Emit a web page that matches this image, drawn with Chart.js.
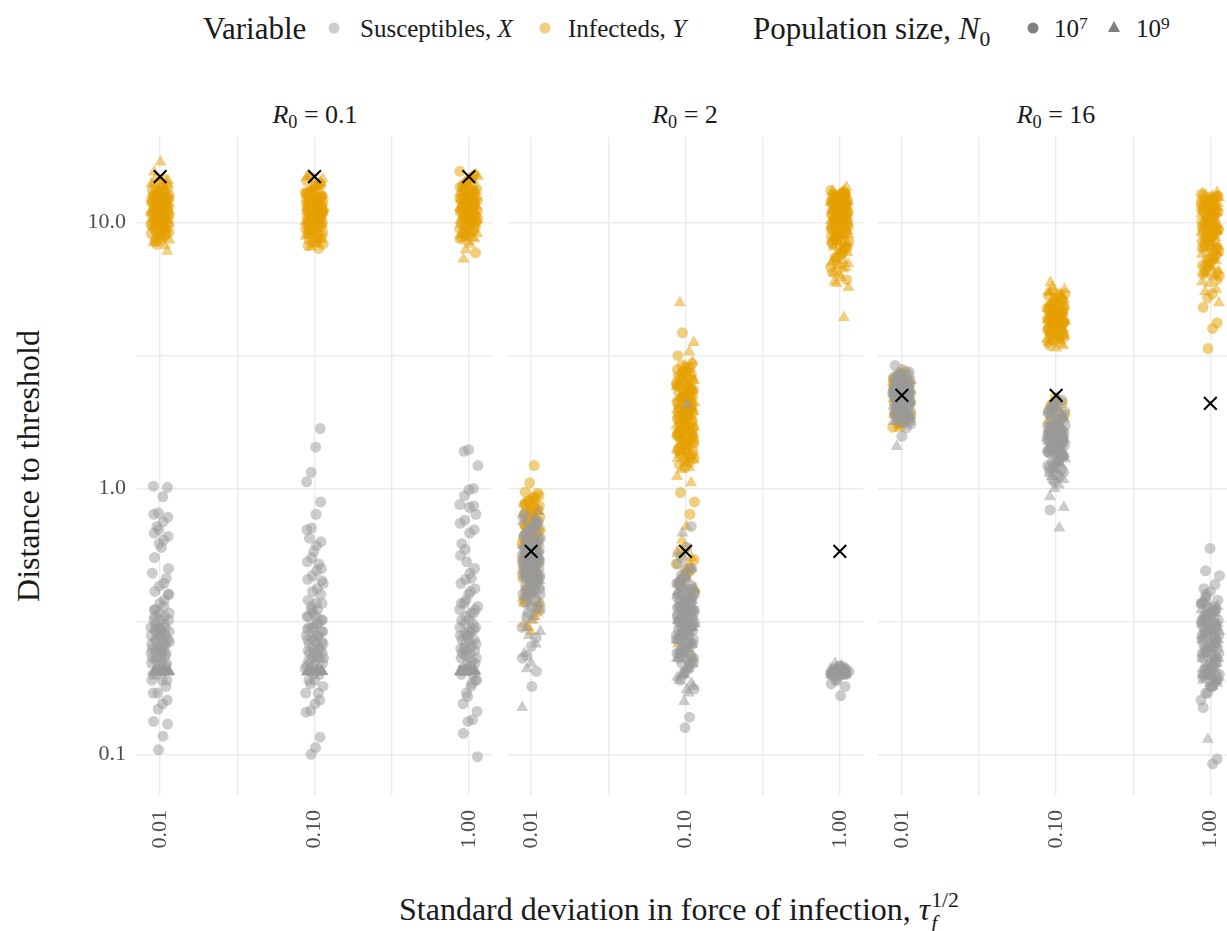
<!DOCTYPE html>
<html>
<head>
<meta charset="utf-8">
<script src="https://cdn.jsdelivr.net/npm/chart.js@4.4.1/dist/chart.umd.min.js"></script>
<style>
  body { margin: 0; width: 1227px; height: 931px; overflow: hidden; position: relative; background: #fff;
         font-family: 'Liberation Serif', serif; color: #1a1a1a; }
  .txt { position: absolute; white-space: nowrap; line-height: 1; }
  .mk { position: absolute; }
  canvas { position: absolute; top: 100px; }
  .lo { font-size: 0.7em; position: relative; top: 0.3em; }
  .hi { font-size: 0.7em; position: relative; top: -0.45em; }
  .stack { display: inline-flex; flex-direction: column; font-size: 0.68em; line-height: 1.05; vertical-align: 0.62em; margin-left: 0.04em; }
</style>
</head>
<body>

<!-- legend -->
<div class="txt" style="left:203px; top:13px; font-size:31px;">Variable</div>
<svg class="mk" style="left:328px; top:22px;" width="12" height="12"><circle cx="6" cy="6" r="5.5" fill="rgba(153,153,153,0.5)"/></svg>
<div class="txt" style="left:360px; top:16px; font-size:25px;">Susceptibles, <i>X</i></div>
<svg class="mk" style="left:539px; top:22px;" width="12" height="12"><circle cx="6" cy="6" r="5.5" fill="rgba(230,159,0,0.5)"/></svg>
<div class="txt" style="left:568px; top:16px; font-size:25px;">Infecteds, <i>Y</i></div>
<div class="txt" style="left:753px; top:13px; font-size:31px;">Population size, <i>N</i><span class="lo">0</span></div>
<svg class="mk" style="left:1027px; top:22px;" width="12" height="12"><circle cx="6" cy="6" r="5.5" fill="rgba(0,0,0,0.5)"/></svg>
<div class="txt" style="left:1054px; top:16px; font-size:25px;">10<span class="hi">7</span></div>
<svg class="mk" style="left:1107px; top:20px;" width="14" height="14"><polygon points="7,1 13,12 1,12" fill="rgba(0,0,0,0.5)"/></svg>
<div class="txt" style="left:1136px; top:16px; font-size:25px;">10<span class="hi">9</span></div>

<!-- facet strips -->
<div class="txt" id="strip0" style="left:315px; top:102px; font-size:26px; transform:translateX(-50%);"></div>
<div class="txt" id="strip1" style="left:685px; top:102px; font-size:26px; transform:translateX(-50%);"></div>
<div class="txt" id="strip2" style="left:1056px; top:102px; font-size:26px; transform:translateX(-50%);"></div>

<!-- axis titles -->
<div class="txt" style="left:28px; top:466px; font-size:32px; transform:translate(-50%,-50%) rotate(-90deg);">Distance to threshold</div>
<div class="txt" style="left:399px; top:889px; font-size:32px;">Standard deviation in force of infection, <i>τ</i><span class="stack"><span>1/2</span><span><i>f</i></span></span></div>

<canvas id="facet0" width="492" height="760" style="left:0px;"></canvas>
<canvas id="facet1" width="355" height="760" style="left:508px;"></canvas>
<canvas id="facet2" width="349" height="760" style="left:878px;"></canvas>

<script>
// categories and labels
const r0Labels = ['0.1', '2', '16'];
const tauLog = [-2, -1, 0];
const tauTicks = ['0.01', '0.10', '1.00'];
const yTickValues = [0.1, 1, 10];
const yTickLabels = ['0.1', '1.0', '10.0'];
const yMinorGrid = [0.316, 3.16];
const xMinorGrid = [-1.5, -0.5];

// black crosses, one per facet and tau
const thresholdMarks = [[14.9, 14.9, 14.9], [0.58, 0.58, 0.58], [2.24, 2.24, 2.09]];

// R0 = 0.1 -- each list holds tau = 0.01, 0.10, 1.00
const suscSmallR01 = [
  [1.02, 1.01, 0.93, 0.81, 0.8, 0.78, 0.75, 0.7, 0.68, 0.66, 0.64, 0.62, 0.55, 0.5, 0.44, 0.43, 0.41, 0.4, 0.38, 0.37, 0.35, 0.34, 0.33, 0.32, 0.31, 0.3, 0.3, 0.29, 0.29, 0.28, 0.28, 0.275, 0.27, 0.26, 0.26, 0.255, 0.25, 0.25, 0.24, 0.24, 0.23, 0.23, 0.22, 0.22, 0.21, 0.2, 0.19, 0.19, 0.17, 0.17, 0.16, 0.155, 0.148, 0.133, 0.13, 0.117, 0.104, 0.32, 0.27, 0.245, 0.3, 0.35,
   0.4, 0.36, 0.34, 0.33, 0.32, 0.31, 0.3, 0.295, 0.29, 0.285, 0.28, 0.27, 0.265, 0.26, 0.25, 0.245, 0.24, 0.235, 0.23, 0.225, 0.22, 0.215, 0.21, 0.2, 0.19, 0.18, 0.6, 0.72, 0.48, 0.46],
  [1.68, 1.43, 1.15, 1.06, 0.89, 0.8, 0.71, 0.7, 0.63, 0.61, 0.55, 0.53, 0.5, 0.49, 0.47, 0.455, 0.45, 0.42, 0.41, 0.38, 0.37, 0.35, 0.34, 0.33, 0.32, 0.31, 0.3, 0.3, 0.29, 0.28, 0.27, 0.26, 0.26, 0.25, 0.24, 0.24, 0.23, 0.23, 0.22, 0.22, 0.21, 0.2, 0.19, 0.184, 0.17, 0.16, 0.155, 0.146, 0.144, 0.116, 0.106, 0.1, 0.28, 0.25, 0.33, 0.36, 0.215,
   0.4, 0.37, 0.35, 0.33, 0.32, 0.31, 0.3, 0.295, 0.29, 0.28, 0.275, 0.27, 0.265, 0.26, 0.25, 0.245, 0.24, 0.235, 0.23, 0.225, 0.22, 0.21, 0.2, 0.19, 0.18, 0.17, 0.58, 0.65, 0.44, 0.52],
  [1.4, 1.38, 1.22, 1.0, 0.99, 0.94, 0.87, 0.86, 0.85, 0.76, 0.74, 0.7, 0.68, 0.59, 0.56, 0.5, 0.48, 0.455, 0.44, 0.42, 0.41, 0.38, 0.37, 0.35, 0.34, 0.33, 0.32, 0.3, 0.29, 0.28, 0.27, 0.26, 0.255, 0.245, 0.24, 0.23, 0.225, 0.22, 0.21, 0.19, 0.185, 0.165, 0.155, 0.145, 0.135, 0.133, 0.12, 0.098, 0.31, 0.28, 0.25, 0.36, 0.2,
   0.4, 0.37, 0.35, 0.34, 0.32, 0.31, 0.3, 0.295, 0.29, 0.285, 0.28, 0.27, 0.265, 0.26, 0.25, 0.245, 0.24, 0.235, 0.23, 0.22, 0.215, 0.21, 0.2, 0.19, 0.18, 0.17, 0.62, 0.8, 0.46, 0.53]
];
const suscLargeR01 = [
  [0.205, 0.204, 0.206, 0.205, 0.204, 0.206, 0.205, 0.205, 0.204, 0.206, 0.205, 0.204, 0.206, 0.205, 0.205, 0.204, 0.205, 0.206, 0.204, 0.205, 0.205, 0.206, 0.204, 0.205],
  [0.205, 0.206, 0.204, 0.205, 0.205, 0.206, 0.204, 0.205, 0.206, 0.204, 0.205, 0.205, 0.206, 0.204, 0.205, 0.205, 0.204, 0.205, 0.206, 0.205, 0.204, 0.205, 0.206, 0.205],
  [0.204, 0.205, 0.206, 0.205, 0.204, 0.205, 0.206, 0.205, 0.204, 0.205, 0.206, 0.205, 0.204, 0.205, 0.206, 0.205, 0.205, 0.204, 0.206, 0.205, 0.204, 0.205, 0.206, 0.205]
];
const infSmallR01 = [
  [14.6, 14.2, 13.8, 13.5, 13.1, 12.8, 12.6, 12.3, 12.1, 11.9, 11.7, 11.5, 11.3, 11.1, 10.9, 10.7, 10.5, 10.3, 10.1, 9.9, 9.7, 9.5, 9.3, 9.1, 8.9, 8.6, 8.3, 12.4, 11.6, 11.0, 10.4, 9.8, 11.8, 12.9, 10.2, 13.3, 9.4, 11.2, 10.8, 12.0,
   13.9, 13.6, 13.0, 12.7, 12.5, 12.2, 12.0, 11.8, 11.6, 11.4, 11.3, 11.1, 11.0, 10.9, 10.7, 10.6, 10.5, 10.3, 10.2, 10.0, 9.9, 9.7, 9.6, 9.4, 9.2, 9.0, 8.8, 8.5, 12.6, 12.1, 11.7, 11.2, 10.8, 10.4, 10.1, 9.8, 11.9, 11.5, 10.6, 12.3],
  [14.8, 14.3, 13.9, 13.5, 13.2, 12.9, 12.6, 12.3, 12.0, 11.8, 11.6, 11.4, 11.2, 11.0, 10.8, 10.6, 10.4, 10.2, 10.0, 9.8, 9.6, 9.4, 9.2, 9.0, 8.8, 8.6, 8.3, 8.0, 12.5, 11.7, 11.1, 10.5, 9.9, 12.1, 13.0, 10.3, 11.5, 10.9, 9.5,
   14.0, 13.7, 13.1, 12.8, 12.5, 12.2, 12.0, 11.8, 11.6, 11.4, 11.2, 11.1, 10.9, 10.8, 10.6, 10.5, 10.3, 10.2, 10.0, 9.8, 9.7, 9.5, 9.3, 9.1, 8.9, 8.7, 8.5, 8.2, 12.6, 12.2, 11.7, 11.3, 10.9, 10.4, 10.1, 9.8, 11.9, 11.5, 10.7, 12.4],
  [15.6, 15.0, 14.5, 14.0, 13.6, 13.2, 12.9, 12.6, 12.3, 12.0, 11.7, 11.4, 11.1, 10.8, 10.5, 10.2, 9.9, 9.6, 9.3, 9.0, 8.8, 7.7, 12.8, 11.9, 11.2, 10.6, 13.4, 12.2, 11.5, 10.0,
   14.8, 14.3, 13.8, 13.4, 13.0, 12.7, 12.4, 12.1, 11.8, 11.6, 11.3, 11.1, 10.9, 10.7, 10.5, 10.3, 10.1, 9.9, 9.7, 9.5, 9.3, 9.1, 8.9, 8.7, 12.5, 12.0, 11.4, 11.0, 10.6, 10.2, 13.2, 12.2, 11.7, 10.8]
];
const infLargeR01 = [
  [16.9, 14.8, 14.0, 13.4, 12.9, 12.5, 12.2, 11.9, 11.6, 11.4, 11.2, 11.0, 10.8, 10.6, 10.4, 10.2, 10.0, 9.8, 9.6, 9.3, 9.0, 8.7, 8.4, 7.8, 12.7, 11.5, 10.9, 10.3, 11.8, 13.1,
   15.5, 14.4, 13.7, 13.2, 12.8, 12.4, 12.0, 11.7, 11.3, 11.1, 10.7, 10.5, 10.1, 9.9, 9.5, 9.2, 8.9, 8.6, 8.2, 12.6, 11.9, 11.0, 10.4, 9.7, 12.2],
  [15.1, 14.6, 14.0, 13.5, 13.0, 12.6, 12.2, 11.9, 11.6, 11.3, 11.0, 10.7, 10.4, 10.1, 9.8, 9.5, 9.2, 8.9, 8.6, 8.3, 8.1, 12.4, 11.1, 10.5, 11.8,
   14.8, 14.2, 13.7, 13.2, 12.8, 12.4, 12.0, 11.7, 11.4, 11.1, 10.8, 10.5, 10.2, 9.9, 9.6, 9.3, 9.0, 8.7, 8.4, 12.6, 11.8, 11.2, 10.6, 9.8, 12.2],
  [15.2, 14.6, 14.1, 13.6, 13.1, 12.7, 12.3, 11.9, 11.5, 11.2, 10.9, 10.6, 10.3, 10.0, 9.7, 9.4, 9.1, 8.8, 8.5, 7.3, 12.5, 11.0, 13.4, 10.4,
   14.9, 14.4, 13.9, 13.4, 12.9, 12.5, 12.1, 11.7, 11.4, 11.1, 10.8, 10.5, 10.2, 9.9, 9.6, 9.3, 9.0, 8.7, 8.3, 7.9, 12.3, 11.6, 10.9, 10.1, 13.1]
];

// R0 = 2
const suscSmallR2 = [
  [0.8, 0.75, 0.72, 0.7, 0.67, 0.65, 0.63, 0.61, 0.6, 0.58, 0.57, 0.56, 0.55, 0.54, 0.52, 0.5, 0.49, 0.47, 0.45, 0.44, 0.42, 0.4, 0.38, 0.36, 0.33, 0.3, 0.275, 0.255, 0.235, 0.23, 0.205, 0.18, 0.62, 0.53, 0.48, 0.43, 0.59, 0.51, 0.46, 0.41, 0.34,
   0.78, 0.74, 0.71, 0.69, 0.66, 0.64, 0.62, 0.6, 0.59, 0.58, 0.57, 0.56, 0.55, 0.54, 0.53, 0.52, 0.51, 0.5, 0.49, 0.48, 0.47, 0.46, 0.45, 0.44, 0.43, 0.42, 0.41, 0.39, 0.37, 0.35,
   0.76, 0.72, 0.68, 0.65, 0.62, 0.6, 0.58, 0.56, 0.54, 0.52, 0.5, 0.48, 0.46, 0.44, 0.42, 0.4, 0.55, 0.5],
  [0.72, 0.6, 0.55, 0.52, 0.5, 0.48, 0.46, 0.44, 0.43, 0.42, 0.41, 0.4, 0.39, 0.38, 0.37, 0.36, 0.35, 0.34, 0.33, 0.32, 0.31, 0.3, 0.29, 0.28, 0.27, 0.26, 0.25, 0.24, 0.23, 0.22, 0.205, 0.19, 0.176, 0.138, 0.126, 0.45, 0.4, 0.35, 0.33, 0.3, 0.28, 0.36, 0.32,
   0.47, 0.44, 0.42, 0.41, 0.4, 0.39, 0.38, 0.37, 0.36, 0.355, 0.35, 0.345, 0.34, 0.335, 0.33, 0.325, 0.32, 0.315, 0.31, 0.305, 0.3, 0.295, 0.29, 0.285, 0.28, 0.27, 0.26, 0.25, 0.24, 0.23, 0.22, 0.21, 0.2, 0.38, 0.34, 0.31,
   0.46, 0.43, 0.41, 0.39, 0.37, 0.36, 0.35, 0.34, 0.33, 0.32, 0.31, 0.3, 0.29, 0.28, 0.27, 0.265, 0.26, 0.25, 0.24, 0.235, 0.23, 0.22, 0.33, 0.3, 0.28],
  [0.215, 0.21, 0.205, 0.2, 0.198, 0.195, 0.2, 0.205, 0.21, 0.19, 0.184, 0.18, 0.166, 0.2, 0.202, 0.21, 0.2, 0.205, 0.198, 0.202, 0.215, 0.19, 0.205, 0.2, 0.21]
];
const suscLargeR2 = [
  [0.82, 0.76, 0.7, 0.66, 0.62, 0.6, 0.57, 0.55, 0.53, 0.51, 0.49, 0.47, 0.45, 0.43, 0.41, 0.39, 0.37, 0.35, 0.32, 0.3, 0.29, 0.26, 0.22, 0.21, 0.15, 0.58, 0.52, 0.46,
   0.75, 0.7, 0.67, 0.64, 0.61, 0.59, 0.57, 0.55, 0.54, 0.52, 0.5, 0.48, 0.47, 0.45, 0.43, 0.41, 0.39, 0.36, 0.33, 0.28, 0.24,
   0.72, 0.66, 0.62, 0.58, 0.55, 0.52, 0.49, 0.46, 0.43, 0.4, 0.37],
  [2.07, 0.68, 0.57, 0.5, 0.46, 0.43, 0.4, 0.38, 0.36, 0.34, 0.32, 0.3, 0.28, 0.26, 0.245, 0.23, 0.215, 0.2, 0.19, 0.18, 0.17, 0.158, 0.37, 0.33, 0.29,
   0.5, 0.45, 0.42, 0.4, 0.38, 0.36, 0.35, 0.34, 0.33, 0.32, 0.31, 0.3, 0.29, 0.28, 0.27, 0.26, 0.25, 0.24, 0.23, 0.22, 0.21, 0.2, 0.195, 0.185, 0.175,
   0.44, 0.41, 0.38, 0.36, 0.34, 0.32, 0.3, 0.29, 0.28, 0.27, 0.26, 0.25, 0.24, 0.23, 0.22, 0.21, 0.2],
  [0.22, 0.21, 0.205, 0.2, 0.2, 0.205, 0.2, 0.21, 0.205, 0.2, 0.2, 0.205, 0.21, 0.2, 0.205, 0.2, 0.21, 0.2, 0.205, 0.215, 0.2, 0.205, 0.21, 0.2]
];
const infSmallR2 = [
  [1.22, 1.05, 0.97, 0.94, 0.92, 0.9, 0.88, 0.86, 0.84, 0.82, 0.8, 0.78, 0.76, 0.74, 0.72, 0.7, 0.68, 0.66, 0.64, 0.62, 0.6, 0.58, 0.56, 0.54, 0.52, 0.5, 0.48, 0.46, 0.44, 0.42, 0.4, 0.38, 0.36, 0.85, 0.75, 0.65, 0.55, 0.6, 0.7, 0.5,
   0.96, 0.93, 0.9, 0.87, 0.83, 0.8, 0.77, 0.73, 0.69, 0.65, 0.61, 0.57, 0.53, 0.49, 0.45, 0.41, 0.37, 0.9, 0.82, 0.72],
  [3.85, 3.16, 2.95, 2.85, 2.75, 2.65, 2.55, 2.45, 2.38, 2.3, 2.22, 2.15, 2.08, 2.0, 1.94, 1.88, 1.82, 1.76, 1.7, 1.65, 1.6, 1.55, 1.5, 1.45, 1.4, 1.35, 1.3, 1.25, 1.2, 0.965, 0.89, 0.8, 0.6, 0.56, 0.52, 0.49, 0.46, 0.43, 2.5, 2.1, 1.9, 1.72, 1.58, 2.6, 1.42,
   2.9, 2.8, 2.7, 2.6, 2.5, 2.42, 2.34, 2.26, 2.18, 2.12, 2.05, 1.98, 1.92, 1.86, 1.8, 1.74, 1.68, 1.63, 1.57, 1.52, 1.47, 1.43, 1.38, 1.33, 1.28, 1.23, 2.35, 2.0, 1.78, 1.62, 1.48, 2.2, 1.85, 1.55, 0.54, 0.5, 0.47, 0.44, 0.41,
   2.85, 2.72, 2.58, 2.46, 2.36, 2.27, 2.19, 2.11, 2.03, 1.96, 1.89, 1.83, 1.77, 1.71, 1.66, 1.6, 1.54, 1.49, 1.44, 1.39, 1.34, 1.3, 2.24, 1.93, 1.64],
  [13.2, 12.9, 12.6, 12.3, 12.0, 11.7, 11.4, 11.1, 10.8, 10.5, 10.2, 9.9, 9.6, 9.3, 9.0, 8.7, 8.4, 8.1, 7.6, 7.0, 6.5, 6.1, 12.4, 11.2, 10.0, 11.8, 10.6, 9.4, 12.8, 11.0,
   13.0, 12.7, 12.4, 12.1, 11.8, 11.5, 11.2, 10.9, 10.6, 10.3, 10.0, 9.7, 9.4, 9.1, 8.8, 8.5, 8.2, 7.9, 7.4, 6.8, 12.5, 11.6, 10.4, 9.5, 12.9, 11.3, 10.1, 8.9,
   12.8, 12.5, 12.2, 11.9, 11.6, 11.3, 11.0, 10.7, 10.4, 10.1, 9.8, 9.5, 9.2, 8.9, 8.6, 8.3, 8.0, 7.7, 12.3, 11.1, 9.9, 10.8, 9.0, 11.7, 10.2]
];
const infLargeR2 = [
  [0.9, 0.85, 0.8, 0.75, 0.7, 0.66, 0.62, 0.58, 0.55, 0.52, 0.49, 0.46, 0.43, 0.4, 0.37, 0.34, 0.32, 0.3, 0.31, 0.63, 0.57, 0.5,
   0.88, 0.82, 0.77, 0.72, 0.68, 0.64, 0.6, 0.56, 0.52, 0.48, 0.44, 0.41, 0.38, 0.35, 0.33, 0.29],
  [5.0, 3.54, 3.27, 2.9, 2.7, 2.55, 2.4, 2.3, 2.2, 2.1, 2.0, 1.9, 1.8, 1.72, 1.64, 1.56, 1.48, 1.4, 1.32, 1.25, 1.18, 1.11, 1.05, 0.72, 0.64, 0.58, 0.55, 0.5, 0.47, 0.44, 0.4, 0.36, 0.3, 0.26, 0.235, 2.45, 1.95, 1.6,
   3.0, 2.8, 2.62, 2.48, 2.35, 2.25, 2.15, 2.05, 1.95, 1.85, 1.76, 1.68, 1.6, 1.52, 1.44, 1.36, 1.28, 1.2, 2.3, 1.9, 1.7, 0.52, 0.48, 0.45, 0.42, 0.38,
   2.75, 2.58, 2.42, 2.28, 2.17, 2.07, 1.97, 1.88, 1.79, 1.7, 1.62, 1.54, 1.46, 1.38, 1.3, 2.0, 1.75],
  [13.6, 13.0, 12.5, 12.1, 11.6, 11.2, 10.8, 10.4, 10.0, 9.6, 9.2, 8.8, 8.4, 8.0, 7.6, 7.3, 7.0, 6.7, 6.4, 6.0, 5.7, 4.4, 12.2, 10.6, 9.0,
   13.2, 12.8, 12.3, 11.9, 11.4, 11.0, 10.6, 10.2, 9.8, 9.4, 9.0, 8.6, 8.2, 7.8, 7.4, 7.1, 6.8, 6.2, 5.9, 12.6, 11.2, 10.0, 8.5,
   13.1, 12.7, 12.2, 11.7, 11.3, 10.9, 10.5, 10.1, 9.7, 9.3, 8.9, 8.5, 8.1, 7.7, 7.2, 6.9, 6.5, 12.0, 10.3, 9.1]
];

// R0 = 16
const suscSmallR16 = [
  [2.9, 2.75, 2.65, 2.58, 2.5, 2.45, 2.4, 2.35, 2.3, 2.26, 2.22, 2.18, 2.14, 2.1, 2.06, 2.02, 1.98, 1.94, 1.9, 1.85, 1.8, 1.75, 1.69, 1.57, 2.38, 2.28, 2.2, 2.12, 2.04, 2.32, 2.16,
   2.8, 2.7, 2.62, 2.55, 2.48, 2.43, 2.38, 2.33, 2.29, 2.25, 2.21, 2.17, 2.13, 2.09, 2.05, 2.01, 1.97, 1.93, 1.88, 1.83, 1.78, 2.4, 2.3, 2.2, 2.1,
   2.7, 2.58, 2.46, 2.36, 2.28, 2.2, 2.12, 2.04, 1.96, 1.88, 1.8, 2.3, 2.15],
  [2.15, 2.05, 1.98, 1.92, 1.86, 1.8, 1.75, 1.7, 1.65, 1.6, 1.56, 1.52, 1.48, 1.44, 1.4, 1.36, 1.32, 1.28, 1.24, 1.2, 1.15, 1.1, 1.06, 0.83, 1.62, 1.5, 1.38, 1.7, 1.45, 1.3,
   2.1, 2.0, 1.95, 1.89, 1.83, 1.78, 1.72, 1.67, 1.62, 1.58, 1.54, 1.5, 1.46, 1.42, 1.38, 1.34, 1.3, 1.26, 1.22, 1.18, 1.13, 1.08, 1.6, 1.5, 1.4,
   2.05, 1.94, 1.85, 1.77, 1.7, 1.63, 1.57, 1.51, 1.45, 1.39, 1.33, 1.27, 1.21, 1.16, 1.55, 1.42],
  [0.595, 0.49, 0.47, 0.435, 0.41, 0.39, 0.37, 0.35, 0.34, 0.33, 0.32, 0.31, 0.3, 0.29, 0.28, 0.27, 0.26, 0.25, 0.24, 0.23, 0.22, 0.21, 0.2, 0.19, 0.18, 0.17, 0.15, 0.096, 0.092, 0.36, 0.3, 0.25, 0.21, 0.2,
   0.42, 0.38, 0.36, 0.34, 0.33, 0.32, 0.31, 0.3, 0.29, 0.28, 0.27, 0.26, 0.25, 0.24, 0.23, 0.22, 0.21, 0.2, 0.19, 0.18, 0.17, 0.16, 0.28, 0.24,
   0.4, 0.37, 0.35, 0.33, 0.32, 0.31, 0.3, 0.29, 0.28, 0.27, 0.26, 0.25, 0.24, 0.23, 0.22, 0.21, 0.2, 0.195, 0.19, 0.18, 0.3, 0.26]
];
const suscLargeR16 = [
  [2.7, 2.6, 2.52, 2.44, 2.37, 2.3, 2.24, 2.18, 2.12, 2.06, 2.0, 1.94, 1.88, 1.82, 1.76, 1.44, 2.34, 2.2, 2.1,
   2.65, 2.55, 2.47, 2.4, 2.33, 2.27, 2.21, 2.15, 2.09, 2.03, 1.97, 1.91, 1.85, 1.79, 2.25, 2.15,
   2.6, 2.45, 2.32, 2.2, 2.08, 1.96, 1.84, 2.25],
  [2.2, 2.08, 1.96, 1.86, 1.78, 1.7, 1.63, 1.56, 1.5, 1.44, 1.38, 1.32, 1.26, 1.2, 1.14, 1.08, 1.03, 1.0, 0.93, 0.85, 0.71, 1.6, 1.46, 1.35,
   2.12, 2.0, 1.9, 1.82, 1.74, 1.66, 1.6, 1.53, 1.47, 1.41, 1.35, 1.29, 1.23, 1.17, 1.11, 1.55, 1.42,
   2.02, 1.88, 1.76, 1.66, 1.57, 1.49, 1.41, 1.33, 1.25, 1.18, 1.5],
  [0.39, 0.37, 0.35, 0.34, 0.33, 0.32, 0.31, 0.3, 0.29, 0.28, 0.27, 0.26, 0.25, 0.24, 0.23, 0.22, 0.215, 0.21, 0.205, 0.2, 0.195, 0.19, 0.185, 0.18, 0.114, 0.33, 0.3, 0.22, 0.2,
   0.38, 0.36, 0.34, 0.33, 0.32, 0.31, 0.3, 0.29, 0.28, 0.27, 0.26, 0.25, 0.24, 0.23, 0.22, 0.21, 0.2, 0.195, 0.19, 0.185, 0.35, 0.29, 0.23, 0.2,
   0.37, 0.35, 0.34, 0.33, 0.32, 0.31, 0.3, 0.29, 0.28, 0.27, 0.26, 0.25, 0.24, 0.23, 0.22, 0.21, 0.205, 0.2, 0.19]
];
const infSmallR16 = [
  [2.75, 2.7, 2.62, 2.55, 2.48, 2.42, 2.36, 2.3, 2.25, 2.2, 2.15, 2.1, 2.05, 2.0, 1.95, 1.9, 1.85, 1.8, 1.75, 1.7, 2.4, 2.2, 2.0, 2.5, 2.3, 2.1,
   2.65, 2.58, 2.5, 2.44, 2.38, 2.32, 2.27, 2.22, 2.17, 2.12, 2.07, 2.02, 1.97, 1.92, 1.87, 1.82, 1.77],
  [5.5, 5.3, 5.1, 4.95, 4.8, 4.7, 4.6, 4.5, 4.4, 4.3, 4.2, 4.1, 4.0, 3.9, 3.8, 3.7, 3.6, 3.45, 4.85, 4.45, 4.15, 4.55, 4.25, 3.95, 2.2, 2.05, 1.9, 1.75, 1.6, 1.45,
   5.4, 5.2, 5.0, 4.9, 4.75, 4.65, 4.55, 4.45, 4.35, 4.25, 4.15, 4.05, 3.95, 3.85, 3.75, 3.65, 3.55, 4.6, 4.4, 4.2, 4.0, 2.1, 1.95, 1.8, 1.65, 1.5,
   5.3, 5.05, 4.85, 4.7, 4.55, 4.42, 4.3, 4.18, 4.06, 3.94, 3.82, 3.7, 4.5, 4.1],
  [12.8, 12.4, 12.0, 11.6, 11.2, 10.8, 10.4, 10.0, 9.6, 9.2, 8.8, 8.4, 8.0, 7.6, 7.2, 6.8, 6.4, 6.1, 5.4, 5.2, 4.8, 4.2, 4.0, 3.36, 11.0, 9.4, 8.2, 10.6, 12.2,
   12.6, 12.2, 11.8, 11.4, 11.0, 10.6, 10.2, 9.8, 9.4, 9.0, 8.6, 8.2, 7.8, 7.4, 7.0, 6.6, 6.3, 11.2, 10.0, 8.8, 12.0, 9.6,
   12.5, 12.1, 11.7, 11.3, 10.9, 10.5, 10.1, 9.7, 9.3, 8.9, 8.5, 8.1, 7.7, 7.3, 6.9, 6.5, 11.5, 10.3, 9.1, 8.0]
];
const infLargeR16 = [
  [2.72, 2.6, 2.5, 2.4, 2.32, 2.25, 2.18, 2.12, 2.05, 1.98, 1.9, 1.82, 1.75, 1.68, 2.45, 2.28, 2.08,
   2.66, 2.55, 2.45, 2.36, 2.28, 2.2, 2.14, 2.08, 2.01, 1.94, 1.86, 1.79, 1.72],
  [5.95, 5.6, 5.4, 5.2, 5.0, 4.85, 4.7, 4.55, 4.4, 4.25, 4.1, 3.95, 3.8, 3.65, 3.5, 3.38, 4.65, 4.3, 4.0, 2.15, 1.95, 1.8, 1.65, 1.5,
   5.7, 5.5, 5.3, 5.1, 4.9, 4.75, 4.6, 4.45, 4.3, 4.15, 4.0, 3.85, 3.7, 3.55, 3.45, 4.5, 4.2, 2.05, 1.85, 1.7, 1.55,
   5.45, 5.15, 4.9, 4.7, 4.5, 4.35, 4.2, 4.05, 3.9, 3.75, 3.6, 4.6],
  [13.0, 12.6, 12.2, 11.8, 11.4, 11.0, 10.6, 10.2, 9.8, 9.4, 9.0, 8.6, 8.2, 7.8, 7.4, 7.0, 6.6, 6.3, 5.9, 5.5, 5.0, 10.0, 8.8,
   12.8, 12.4, 12.0, 11.6, 11.2, 10.8, 10.4, 10.0, 9.6, 9.2, 8.8, 8.4, 8.0, 7.6, 7.2, 6.8, 6.4, 6.0, 5.6, 11.0, 9.4,
   12.9, 12.5, 12.1, 11.7, 11.3, 10.9, 10.5, 10.1, 9.7, 9.3, 8.9, 8.5, 8.1, 7.7, 7.3, 6.9, 6.5, 11.8, 9.9]
];

const facets = [
  { susc7: suscSmallR01, susc9: suscLargeR01, inf7: infSmallR01, inf9: infLargeR01 },
  { susc7: suscSmallR2, susc9: suscLargeR2, inf7: infSmallR2, inf9: infLargeR2 },
  { susc7: suscSmallR16, susc9: suscLargeR16, inf7: infSmallR16, inf9: infLargeR16 }
];

const grayFill = 'rgba(153,153,153,0.5)';
const orangeFill = 'rgba(230,159,0,0.5)';
const gridColor = '#ebebeb';
const tickFont = { family: 'Liberation Serif', size: 22 };

// horizontal spread of the jittered points (log10 units), evenly spaced offsets
const jitterWidth = 0.06;
function jitter(i, seed) {
    var f = ((i + 1) * 0.7548776662 + seed * 0.3819660113) % 1;
    return (f - 0.5) * 2 * jitterWidth;
}

function pointsFor(lists, seed) {
    var pts = [];
    lists.forEach(function (vals, t) {
        vals.forEach(function (v, i) {
            pts.push({ x: tauLog[t] + jitter(i, seed + t * 7), y: v });
        });
    });
    return pts;
}

function drawFacet(k, xMin, xMax, withYAxis) {
    const ctx = document.getElementById('facet' + k);
    const f = facets[k];
    document.getElementById('strip' + k).innerHTML = '<i>R</i><span class="lo">0</span> = ' + r0Labels[k];

    new Chart(ctx, {
        type: 'scatter',
        data: {
            datasets: [
                {
                    label: 'threshold',
                    data: tauLog.map((t, j) => ({ x: t, y: thresholdMarks[k][j] })),
                    pointStyle: 'crossRot', pointRadius: 9, borderColor: '#000', borderWidth: 2
                },
                { label: 'Susceptibles 1e7', data: pointsFor(f.susc7, 1), pointStyle: 'circle', pointRadius: 5.5, backgroundColor: grayFill, borderWidth: 0 },
                { label: 'Susceptibles 1e9', data: pointsFor(f.susc9, 3), pointStyle: 'triangle', pointRadius: 7, backgroundColor: grayFill, borderWidth: 0 },
                { label: 'Infecteds 1e7', data: pointsFor(f.inf7, 5), pointStyle: 'circle', pointRadius: 5.5, backgroundColor: orangeFill, borderWidth: 0 },
                { label: 'Infecteds 1e9', data: pointsFor(f.inf9, 2), pointStyle: 'triangle', pointRadius: 7, backgroundColor: orangeFill, borderWidth: 0 }
            ]
        },
        options: {
            responsive: false,
            animation: false,
            events: [],
            layout: { autoPadding: false, padding: { top: 37, left: 0, right: 0, bottom: 0 } },
            plugins: { legend: { display: false }, tooltip: { enabled: false } },
            scales: {
                x: {
                    type: 'linear',
                    min: xMin,
                    max: xMax,
                    afterBuildTicks: axis => { axis.ticks = tauLog.concat(xMinorGrid).map(v => ({ value: v })); },
                    afterFit: axis => { axis.height = 65; axis.paddingLeft = 0; axis.paddingRight = 0; },
                    grid: { color: gridColor, lineWidth: 1.4, drawTicks: false },
                    border: { display: false },
                    ticks: {
                        autoSkip: false, minRotation: 90, maxRotation: 90, padding: 15,
                        color: '#4d4d4d', font: tickFont,
                        callback: function (v) {
                            var j = tauLog.indexOf(v);
                            return j >= 0 ? tauTicks[j] : '';
                        }
                    }
                },
                y: {
                    type: 'logarithmic',
                    min: 0.0703,
                    max: 21.0,
                    afterBuildTicks: axis => { axis.ticks = yTickValues.concat(yMinorGrid).map(v => ({ value: v })); },
                    afterFit: axis => { axis.width = withYAxis ? 137 : 0; axis.paddingTop = 0; axis.paddingBottom = 0; },
                    grid: { color: gridColor, lineWidth: 1.4, drawTicks: false },
                    border: { display: false },
                    ticks: {
                        display: withYAxis, padding: 11,
                        color: '#4d4d4d', font: tickFont,
                        callback: function (v) {
                            var j = yTickValues.indexOf(v);
                            return j >= 0 ? yTickLabels[j] : '';
                        }
                    }
                }
            }
        }
    });
}

drawFacet(0, -2.15, 0.15, true);
drawFacet(1, -2.15, 0.15, false);
drawFacet(2, -2.155, 0.108, false);
</script>
</body>
</html>
